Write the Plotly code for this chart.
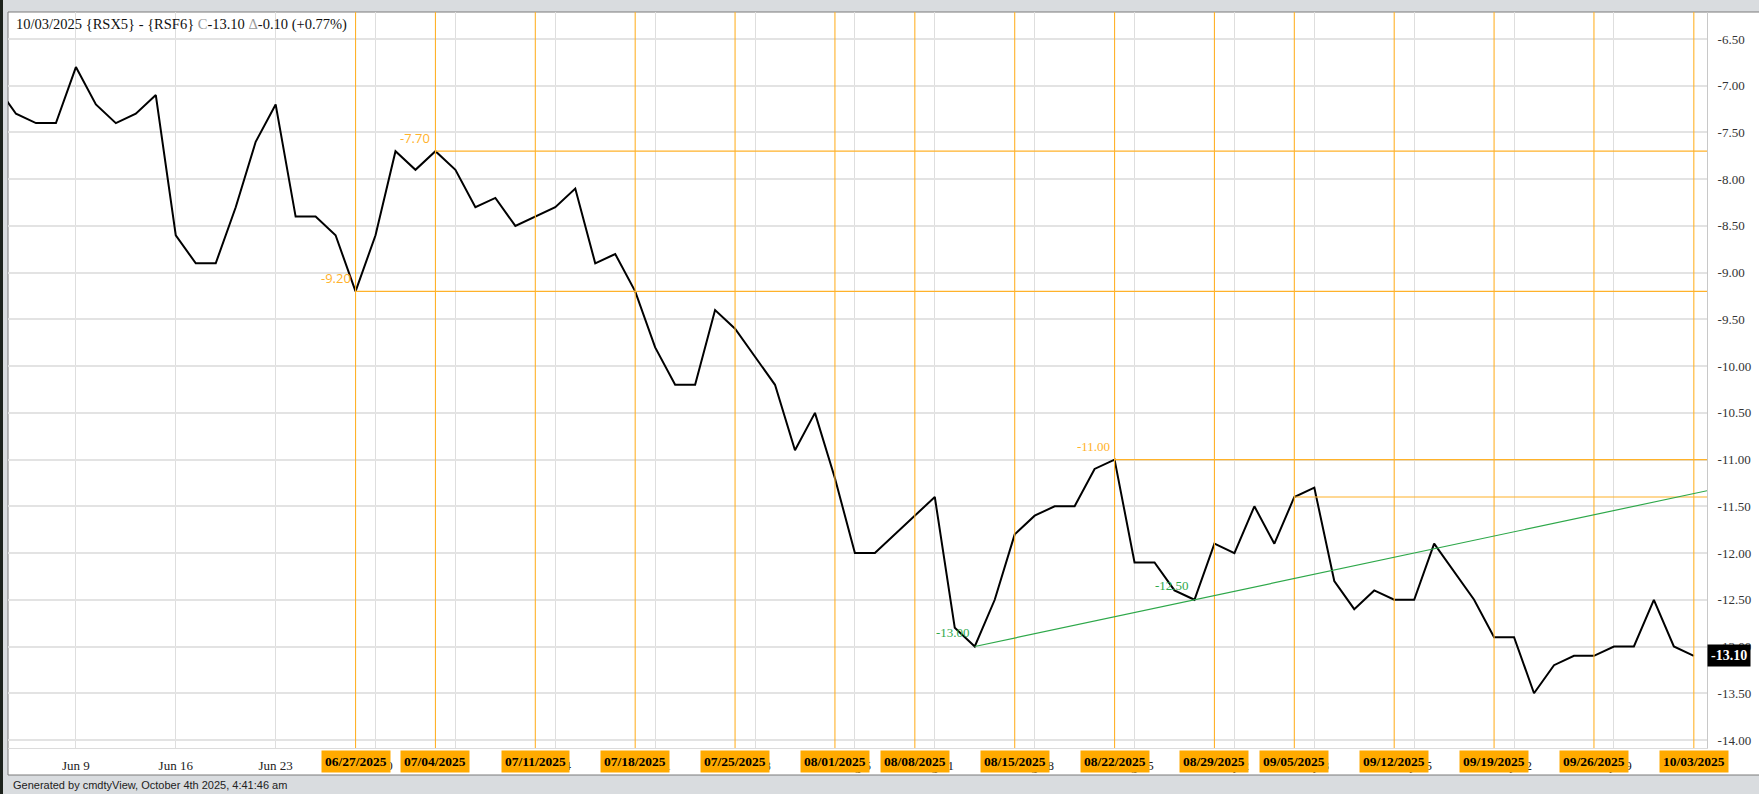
import plotly.graph_objects as go

# ---------------- data ----------------
dates = [
    "2025-06-03", "2025-06-04", "2025-06-05", "2025-06-06",
    "2025-06-09", "2025-06-10", "2025-06-11", "2025-06-12", "2025-06-13",
    "2025-06-16", "2025-06-17", "2025-06-18", "2025-06-19", "2025-06-20",
    "2025-06-23", "2025-06-24", "2025-06-25", "2025-06-26", "2025-06-27",
    "2025-06-30", "2025-07-02", "2025-07-03", "2025-07-04",
    "2025-07-07", "2025-07-08", "2025-07-09", "2025-07-10", "2025-07-11",
    "2025-07-14", "2025-07-15", "2025-07-16", "2025-07-17", "2025-07-18",
    "2025-07-21", "2025-07-22", "2025-07-23", "2025-07-24", "2025-07-25",
    "2025-07-28", "2025-07-29", "2025-07-30", "2025-07-31", "2025-08-01",
    "2025-08-05", "2025-08-06", "2025-08-07", "2025-08-08",
    "2025-08-11", "2025-08-12", "2025-08-13", "2025-08-14", "2025-08-15",
    "2025-08-18", "2025-08-19", "2025-08-20", "2025-08-21", "2025-08-22",
    "2025-08-25", "2025-08-26", "2025-08-27", "2025-08-28", "2025-08-29",
    "2025-09-02", "2025-09-03", "2025-09-04", "2025-09-05",
    "2025-09-08", "2025-09-09", "2025-09-10", "2025-09-11", "2025-09-12",
    "2025-09-15", "2025-09-16", "2025-09-17", "2025-09-18", "2025-09-19",
    "2025-09-22", "2025-09-23", "2025-09-24", "2025-09-25", "2025-09-26",
    "2025-09-29", "2025-09-30", "2025-10-01", "2025-10-02", "2025-10-03",
]
spread = [
    -7.00, -7.30, -7.40, -7.40,
    -6.80, -7.20, -7.40, -7.30, -7.10,
    -8.60, -8.90, -8.90, -8.30, -7.60,
    -7.20, -8.40, -8.40, -8.60, -9.20,
    -8.60, -7.70, -7.90, -7.70,
    -7.90, -8.30, -8.20, -8.50, -8.40,
    -8.30, -8.10, -8.90, -8.80, -9.20,
    -9.80, -10.20, -10.20, -9.40, -9.60,
    -9.90, -10.20, -10.90, -10.50, -11.20,
    -12.00, -12.00, -11.80, -11.60,
    -11.40, -12.80, -13.00, -12.50, -11.80,
    -11.60, -11.50, -11.50, -11.10, -11.00,
    -12.10, -12.10, -12.40, -12.50, -11.90,
    -12.00, -11.50, -11.90, -11.40,
    -11.30, -12.30, -12.60, -12.40, -12.50,
    -12.50, -11.90, -12.20, -12.50, -12.90,
    -12.90, -13.50, -13.20, -13.10, -13.10,
    -13.00, -13.00, -12.50, -13.00, -13.10,
]

week_starts = [
    "2025-06-09", "2025-06-16", "2025-06-23", "2025-06-30", "2025-07-07",
    "2025-07-14", "2025-07-21", "2025-07-28", "2025-08-05", "2025-08-11",
    "2025-08-18", "2025-08-25", "2025-09-02", "2025-09-08", "2025-09-15",
    "2025-09-22", "2025-09-29",
]
week_labels = [
    "Jun 9", "Jun 16", "Jun 23", "Jun 30", "Jul 7", "Jul 14", "Jul 21",
    "Jul 28", "Aug 5", "Aug 11", "Aug 18", "Aug 25", "Sep 2", "Sep 8",
    "Sep 15", "Sep 22", "Sep 29",
]
fridays = [
    "2025-06-27", "2025-07-04", "2025-07-11", "2025-07-18", "2025-07-25",
    "2025-08-01", "2025-08-08", "2025-08-15", "2025-08-22", "2025-08-29",
    "2025-09-05", "2025-09-12", "2025-09-19", "2025-09-26", "2025-10-03",
]
friday_labels = [
    "06/27/2025", "07/04/2025", "07/11/2025", "07/18/2025", "07/25/2025",
    "08/01/2025", "08/08/2025", "08/15/2025", "08/22/2025", "08/29/2025",
    "09/05/2025", "09/12/2025", "09/19/2025", "09/26/2025", "10/03/2025",
]
y_tick_values = [-6.5, -7.0, -7.5, -8.0, -8.5, -9.0, -9.5, -10.0, -10.5,
                 -11.0, -11.5, -12.0, -12.5, -13.0, -13.5, -14.0]

level_dates = ["2025-06-27", "2025-07-04", "2025-08-22", "2025-09-05"]
level_values = [-9.20, -7.70, -11.00, -11.40]
level_labels = ["-9.20", "-7.70", "-11.00", ""]
level_fonts = ["Open Sans, sans-serif", "Open Sans, sans-serif",
               "Liberation Serif, serif", "Liberation Serif, serif"]

trend_dates = ["2025-08-13", "2025-08-28"]
trend_values = [-13.00, -12.50]
trend_labels = ["-13.00", "-12.50"]

header_date = "10/03/2025"
header_symbol = "{RSX5} - {RSF6}"
last_close = -13.10
last_change = -0.10
last_change_pct = "+0.77%"
footer_text = "Generated by cmdtyView, October 4th 2025, 4:41:46 am"

# ---------------- layout geometry ----------------
W, H = 1759, 794
ML, MR, MT, MB = 8, 52, 12, 46
PW, PH = W - ML - MR, H - MT - MB
PAGE_GREY = "#d9dcdf"

def px_x(px):
    return (px - ML) / PW

def px_y(py):
    return (H - MB - py) / PH

idx = {d: i for i, d in enumerate(dates)}
x_range = [0.6, len(dates) - 1 + 0.66]
y_range = [-14.086, -6.211]

ORANGE = "#FFB22A"
BOX_ORANGE = "#FFAA00"
GREEN = "#2EA84A"
SERIF = "Liberation Serif, Times New Roman, serif"

fig = go.Figure()

fig.add_trace(go.Scatter(
    x=dates, y=spread, mode="lines",
    line=dict(color="#000000", width=2),
    hoverinfo="x+y", showlegend=False,
))

shapes = []
annotations = []

# page chrome: white chart box on grey page
shapes.append(dict(type="rect", xref="paper", yref="paper", layer="below",
                   x0=px_x(8), x1=px_x(W + 5), y0=px_y(775), y1=px_y(12),
                   fillcolor="#ffffff", line=dict(color="#7a7a7a", width=1)))
shapes.append(dict(type="rect", xref="paper", yref="paper", layer="below",
                   x0=px_x(-2), x1=px_x(3), y0=px_y(H + 2), y1=px_y(-2),
                   fillcolor="#1c221c", line=dict(width=0)))

# Friday orange verticals
for f in fridays:
    shapes.append(dict(type="line", xref="x", yref="paper", layer="above",
                       x0=idx[f], x1=idx[f], y0=0, y1=1,
                       line=dict(color=ORANGE, width=1.1)))

# horizontal level lines to right edge
for d, v in zip(level_dates, level_values):
    shapes.append(dict(type="line", xref="x", yref="y", layer="above",
                       x0=idx[d], x1=x_range[1], y0=v, y1=v,
                       line=dict(color=ORANGE, width=1.1)))

# green trendline extended to right edge
i0, i1 = idx[trend_dates[0]], idx[trend_dates[1]]
slope = (trend_values[1] - trend_values[0]) / (i1 - i0)
shapes.append(dict(type="line", xref="x", yref="y", layer="above",
                   x0=i0, x1=x_range[1], y0=trend_values[0],
                   y1=trend_values[0] + slope * (x_range[1] - i0),
                   line=dict(color=GREEN, width=1.2)))

# level labels
for d, v, lab, fnt in zip(level_dates, level_values, level_labels, level_fonts):
    if lab:
        annotations.append(dict(x=idx[d], y=v, xref="x", yref="y", text=lab,
                                showarrow=False, xanchor="right", yanchor="middle",
                                xshift=-3, yshift=13,
                                font=dict(family=fnt, size=13, color=ORANGE)))
for d, v, lab in zip(trend_dates, trend_values, trend_labels):
    annotations.append(dict(x=idx[d], y=v, xref="x", yref="y", text=lab,
                            showarrow=False, xanchor="right", yanchor="middle",
                            xshift=-3, yshift=14,
                            font=dict(family=SERIF, size=13, color=GREEN)))

# Friday date boxes
for f, lab in zip(fridays, friday_labels):
    annotations.append(dict(x=idx[f], y=px_y(761), xref="x", yref="paper",
                            text="<b>" + lab + "</b>", showarrow=False,
                            xanchor="center", yanchor="middle",
                            bgcolor=BOX_ORANGE, borderpad=3,
                            font=dict(family=SERIF, size=13.5, color="#000000")))

# last value box
annotations.append(dict(x=1.0, y=last_close, xref="paper", yref="y",
                        text="<b>%.2f</b>" % last_close, showarrow=False,
                        xanchor="left", yanchor="middle", xshift=0,
                        bgcolor="#000000", borderpad=3,
                        font=dict(family=SERIF, size=14, color="#ffffff")))

# header
header = (f"{header_date} {header_symbol} <span style='color:#9a9a9a'>C</span>"
          f"{last_close:.2f} <span style='color:#9a9a9a'>\u0394</span>"
          f"{last_change:.2f} ({last_change_pct})")
annotations.append(dict(x=px_x(14), y=px_y(25), xref="paper", yref="paper",
                        text=header, showarrow=False, xanchor="left",
                        yanchor="middle",
                        font=dict(family=SERIF, size=14.5, color="#111111")))

# footer
annotations.append(dict(x=px_x(11), y=px_y(785), xref="paper", yref="paper",
                        text=footer_text, showarrow=False, xanchor="left",
                        yanchor="middle",
                        font=dict(family="Liberation Sans, Arial, sans-serif",
                                  size=11, color="#222222")))

fig.update_layout(
    width=W, height=H,
    margin=dict(l=ML, r=MR, t=MT, b=MB, pad=0),
    paper_bgcolor=PAGE_GREY,
    plot_bgcolor="#ffffff",
    showlegend=False,
    shapes=shapes,
    annotations=annotations,
    xaxis=dict(
        type="category", range=x_range,
        tickmode="array", tickvals=week_starts, ticktext=week_labels,
        showgrid=True, gridcolor="#dedede", gridwidth=1.3,
        showline=True, linecolor="#dcdcdc", linewidth=1,
        ticks="", ticklabelstandoff=5,
        tickfont=dict(family=SERIF, size=13, color="#222222"),
        zeroline=False, fixedrange=True,
    ),
    yaxis=dict(
        side="right", range=y_range,
        tickmode="array", tickvals=y_tick_values,
        ticktext=["%.2f" % v for v in y_tick_values],
        showgrid=True, gridcolor="#e3e3e3", gridwidth=1.6,
        showline=True, linecolor="#c8c8c8", linewidth=1,
        ticks="", ticklabelstandoff=7,
        tickfont=dict(family=SERIF, size=13, color="#333333"),
        zeroline=False, fixedrange=True,
    ),
)

page_css = (
    "document.body.style.margin='0px';"
    "document.body.style.overflow='hidden';"
    f"document.body.style.background='{PAGE_GREY}';"
)
fig.write_html("out.html", post_script=page_css,
               config={"displayModeBar": False})
